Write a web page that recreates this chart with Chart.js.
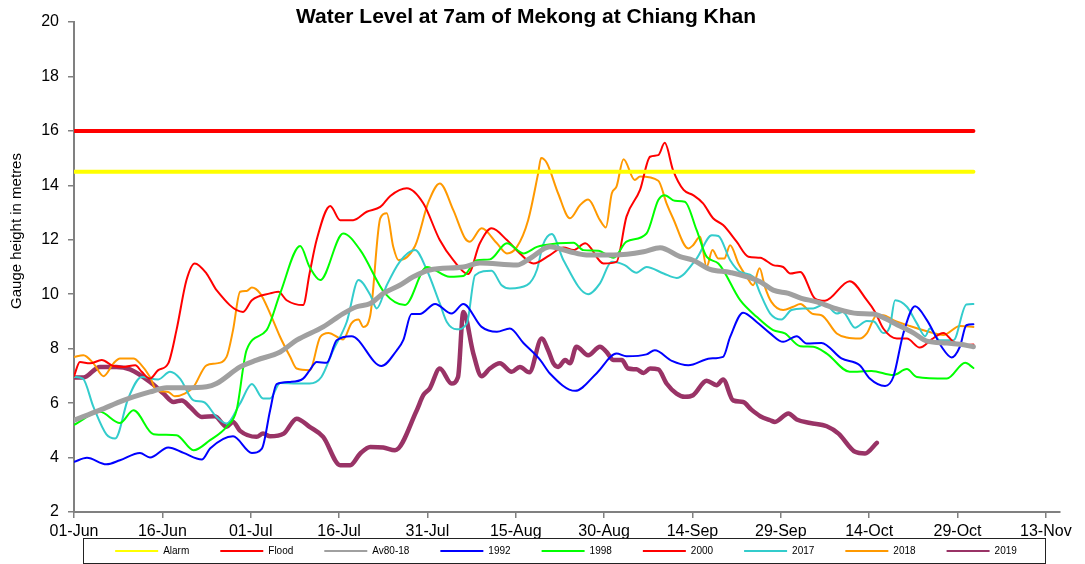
<!DOCTYPE html>
<html>
<head>
<meta charset="utf-8">
<title>Water Level at 7am of Mekong at Chiang Khan</title>
<script src="https://cdn.jsdelivr.net/npm/chart.js@4.4.1/dist/chart.umd.min.js"></script>
<style>
  html, body { margin: 0; padding: 0; background: #fff; }
  #wrap { width: 1085px; height: 564px; position: relative; }
</style>
</head>
<body>
<div id="wrap"><canvas id="graph"></canvas></div>
<script>
// x = days since 01-Jun, y = gauge height (m)
const tickLabels = ['01-Jun', '16-Jun', '01-Jul', '16-Jul', '31-Jul', '15-Aug',
                    '30-Aug', '14-Sep', '29-Sep', '14-Oct', '29-Oct', '13-Nov'];

const alarm = [[0, 14.5], [152.7, 14.5]];
const flood = [[0, 16], [152.7, 16]];

const av8018 = [[0,5.37],[4.4,5.74],[8.4,6.1],[12.9,6.41],[15.7,6.56],[18.6,6.56],[22.5,6.6],[24.2,6.72],
  [28.2,7.33],[31,7.58],[35,7.88],[37.8,8.31],[42.3,8.8],[45.7,9.29],[48,9.54],[50.3,9.66],[52.5,10.03],
  [55.3,10.33],[57.6,10.64],[60.4,10.89],[66.1,11.0],[68.9,11.15],[75.2,11.07],[77.4,11.31],[80.8,11.74],
  [84.2,11.56],[87,11.44],[91.6,11.44],[96.7,11.56],[99.5,11.71],[102.9,11.38],[105.1,11.25],[108,10.91],
  [111.4,10.8],[116.5,10.46],[118.7,10.15],[121.3,10.03],[123.5,9.85],[126.1,9.72],[129.2,9.48],[133.1,9.29],
  [135.7,9.27],[137.7,9.11],[140.2,8.83],[142.5,8.58],[144.8,8.28],[148.2,8.21],[150.4,8.16],[152.7,8.07]];

const y1992 = [[0,3.84],[2.2,3.99],[5.5,3.75],[7.8,3.9],[11.2,4.17],[12.9,4.0],[16,4.37],[18.6,4.17],
  [21.7,3.93],[23.1,4.33],[27,4.78],[30.2,4.17],[31.9,4.33],[33.3,5.74],[34.4,6.7],[36.7,6.78],[38.9,6.9],
  [40,7.2],[41.2,7.51],[42.9,7.48],[44.6,8.31],[47.1,8.46],[52.2,7.36],[54.8,7.94],[55.9,8.31],[57.3,9.27],
  [58.7,9.27],[61.3,9.64],[64.1,9.29],[66.1,9.64],[69.2,8.8],[71.8,8.62],[74,8.74],[76.3,8.21],[79.1,7.6],
  [80.8,7.09],[85.1,6.45],[88.7,7.09],[92.1,7.82],[93.8,7.72],[97.2,7.79],[98.6,7.94],[101.5,7.55],
  [104.3,7.39],[108,7.64],[110.2,7.7],[111.4,8.43],[113.6,9.32],[115.9,8.98],[118.2,8.56],[120.4,8.25],
  [122.7,8.46],[124.4,8.19],[126.9,8.21],[130.3,7.64],[133.4,7.39],[135.1,6.9],[137.7,6.63],[139.1,6.96],
  [140.8,8.56],[142.8,9.56],[144.8,9.05],[147.3,8.07],[149,7.68],[150.4,8.07],[151.5,8.86],[152.7,8.9]];

const y1998 = [[0,5.2],[4.4,5.68],[7.8,5.27],[10.1,5.74],[13.5,4.86],[17.4,4.82],[20.3,4.27],[23.1,4.64],
  [25.9,5.13],[27.6,5.74],[29.3,7.95],[32.7,8.68],[35,10.03],[38.4,11.77],[40,11.0],[41.8,10.52],[45.7,12.23],
  [48.6,11.62],[52.8,10.03],[56.2,9.6],[59.9,11.0],[63.8,10.64],[66.1,10.67],[68.4,11.25],[70.6,11.28],
  [73.5,11.87],[76.3,11.5],[78.6,11.74],[79.7,11.8],[84.8,11.89],[86.5,11.62],[89,11.6],[91.6,11.34],
  [93.8,11.93],[97.2,12.23],[99.2,13.46],[100.3,13.64],[102,13.43],[103.7,13.4],[105.7,12.36],[107.4,11.38],
  [109.4,11.13],[113.1,9.78],[115.9,9.17],[118.7,8.68],[120.7,8.56],[123.3,8.09],[125.5,8.07],[127.8,7.82],
  [131.7,7.15],[135.4,7.18],[139.1,7.03],[141.4,7.25],[143.1,6.96],[148.2,6.9],[151.3,7.48],[152.7,7.29]];

const y2000 = [[0,6.99],[1,7.51],[2.7,7.46],[4.7,7.58],[6.7,7.36],[8.4,7.33],[10.4,7.39],[11.5,7.15],
  [12.9,6.9],[14.3,7.21],[16,7.46],[17.4,8.68],[19.1,10.52],[20.5,11.13],[22.5,10.76],[24.2,10.15],[28.7,9.35],
  [30.2,9.78],[33.3,10.03],[34.7,10.09],[36.1,9.78],[38.9,9.6],[40,10.77],[41.2,12.0],[43.5,13.24],[45.2,12.72],
  [47.4,12.72],[49.7,13.03],[52,13.21],[53.7,13.61],[56.5,13.89],[59.3,13.34],[62.1,11.99],[64.4,11.25],
  [66.9,10.74],[68.9,11.87],[70.9,12.42],[73.5,11.99],[75.7,11.5],[78,11.13],[80.8,11.44],[83.1,11.72],
  [84.8,11.62],[86.8,11.87],[89.9,11.13],[92.1,11.19],[93.8,12.85],[96.1,13.83],[97.8,15.05],[99.2,15.11],
  [100.3,15.56],[101.7,14.56],[103.5,13.83],[105.1,13.64],[106.8,13.34],[108.5,12.79],[110.2,12.54],
  [112.5,11.93],[114.5,11.38],[116.5,11.34],[118.7,11.07],[120.4,11.0],[121.6,10.76],[123.3,10.82],
  [125.8,9.84],[127.5,9.76],[131.7,10.48],[134.6,9.78],[136,9.35],[137.4,8.74],[139.7,8.37],[141.4,8.37],
  [143.6,8.04],[145.6,8.34],[147.6,8.58],[149.3,8.25],[151,8.13],[152.7,8.15]];

const y2017 = [[0,6.96],[1.5,6.9],[3.3,5.86],[5.5,4.85],[7,4.7],[9.2,6.17],[11.5,6.96],[14.3,6.87],
  [16.3,7.15],[18,6.9],[20.3,6.1],[22,6.04],[24.2,5.49],[25.9,5.25],[28.2,5.99],[30.2,6.7],[32.1,6.17],
  [33.3,6.17],[35,6.74],[37.8,6.72],[40,6.72],[42,6.96],[44,7.94],[46.3,8.98],[48.3,10.52],[50.3,9.97],
  [51.4,9.48],[53.1,10.33],[55.3,11.19],[57.9,11.62],[59.9,10.89],[62.1,9.66],[63.3,8.98],[65,8.71],
  [66.7,8.93],[68.1,10.7],[70.9,10.86],[72.6,10.33],[74,10.21],[76.9,10.33],[78.6,10.9],[79.6,11.8],
  [81.1,12.21],[83.1,11.25],[87.3,10.0],[89.3,10.4],[91.3,11.19],[93.5,11.07],[95.5,10.79],[97.2,11.0],
  [100.1,10.76],[102.3,10.6],[105.7,11.31],[108.3,12.17],[109.4,12.14],[111.4,11.25],[113.1,10.82],
  [115.3,10.64],[116.5,10.03],[118.2,9.29],[120.1,9.07],[121.8,9.42],[123.8,9.48],[125.5,9.48],[127.5,9.64],
  [129.5,9.29],[130.5,9.35],[132.6,8.77],[134.6,9.02],[135.8,9.0],[137.4,8.58],[138.5,8.8],[139.4,9.78],
  [141.4,9.54],[143.1,8.93],[144.5,8.46],[145.3,8.74],[147,8.31],[149.3,8.31],[151.5,9.62],[152.7,9.64]];

const y2018 = [[0,7.7],[1.6,7.76],[3.3,7.46],[5,6.99],[6.7,7.46],[7.8,7.64],[10.1,7.64],[11.2,7.46],
  [12.9,6.96],[14,6.47],[16,6.41],[17.1,6.25],[18.8,6.35],[20.3,6.6],[22.5,7.39],[24.2,7.46],[25.9,7.7],
  [27,8.68],[28.2,10.09],[29.3,10.12],[30.2,10.25],[31.6,10.03],[33.3,9.29],[35,8.43],[36.7,7.7],[37.8,7.27],
  [40,7.21],[41.8,8.43],[43.2,8.58],[45.7,8.34],[47.1,8.93],[48.3,9.07],[49.1,8.8],[50.3,9.23],[52,12.79],
  [53.1,12.97],[54.2,11.74],[55.1,11.25],[57.9,11.77],[60.2,13.4],[62.1,14.07],[64.4,13.09],[66.4,12.05],
  [67.2,11.93],[69.2,12.42],[71.8,11.87],[73.5,11.5],[75.2,11.74],[77.1,12.72],[78.8,14.44],[79.3,15.0],
  [80.3,14.81],[82.2,13.7],[84.2,12.79],[85.9,13.27],[87.3,13.48],[89.3,12.72],[90.3,12.45],[91.3,13.7],
  [92.1,13.95],[93.3,14.96],[95.2,14.2],[96.1,14.32],[99.2,14.17],[100.6,13.34],[101.7,12.79],[104.3,11.68],
  [105.1,11.8],[106.3,12.11],[107.4,11.0],[108.4,11.62],[109.4,11.31],[110.4,11.31],[111.4,11.8],
  [112.8,11.13],[114.2,10.64],[115.3,10.33],[116.4,10.95],[117.3,10.27],[118.4,9.72],[120.4,9.42],
  [122.1,9.54],[123.3,9.64],[125.5,9.27],[126.9,9.23],[129.5,8.56],[131.2,8.41],[133.4,8.37],[134.6,8.56],
  [136.3,9.23],[137.4,9.23],[139.1,9.05],[141.9,8.83],[144.8,8.64],[147.6,8.5],[150.4,8.83],[152.7,8.8]];

const y2019 = [[0,6.94],[1.6,6.94],[4.4,7.33],[7.2,7.33],[9.5,7.24],[12.9,6.78],[15.2,6.35],[16.9,6.04],
  [18.3,6.1],[19.7,5.86],[21.7,5.49],[23.9,5.52],[25.9,5.13],[27,5.31],[28.2,4.98],[31,4.76],[32.1,4.88],
  [33.3,4.78],[35.6,4.88],[37.8,5.43],[40,5.13],[42.3,4.76],[45.2,3.72],[46.9,3.72],[48.6,4.15],[50.3,4.39],
  [52.5,4.37],[54.5,4.27],[58.2,5.74],[59.3,6.29],[60.4,6.54],[62.1,7.27],[64.1,6.72],[65.2,6.96],[66.1,9.35],
  [67.8,7.82],[69.2,6.99],[70.6,7.27],[72.3,7.46],[74.3,7.15],[75.7,7.33],[77.3,7.13],[79.4,8.37],[80.5,7.94],
  [81.4,7.46],[82.2,7.33],[83.4,7.58],[84.2,7.46],[85.3,8.07],[87.3,7.76],[89.3,8.07],[90.4,7.88],[91.6,7.58],
  [93,7.58],[94.1,7.27],[95.5,7.24],[96.7,7.11],[97.8,7.27],[99.2,7.24],[100.6,6.72],[102.3,6.35],[103.7,6.23],
  [105.1,6.29],[107.4,6.82],[109.1,6.66],[110.2,6.87],[111.9,6.1],[113.6,6.04],[115,5.76],[116.5,5.52],
  [118.2,5.37],[119,5.31],[121.3,5.62],[122.7,5.4],[125,5.27],[127.8,5.15],[129.8,4.88],[132.6,4.21],
  [134.3,4.15],[136.3,4.54]];

const seriesNames = ['Alarm', 'Flood', 'Av80-18', '1992', '1998', '2000', '2017', '2018', '2019'];
const seriesData = [alarm, flood, av8018, y1992, y1998, y2000, y2017, y2018, y2019];
const seriesColors = ['#ffff00', '#ff0000', '#a0a0a0', '#0000ff', '#00ff00', '#ff0000', '#33cccc', '#ff9900', '#993366'];
const seriesWidths = [4, 4, 5, 2, 2, 2, 2, 2, 4.5];

const FONT = '"Liberation Sans", Arial, sans-serif';

// title, rotated axis title and the boxed legend are drawn by hand
const extraText = {
    id: 'extraText',
    afterDraw(chart) {
        const ctx = chart.ctx;
        ctx.save();
        ctx.fillStyle = '#000';

        ctx.font = 'bold 21px ' + FONT;
        ctx.textAlign = 'center';
        ctx.textBaseline = 'middle';
        ctx.fillText('Water Level at 7am of Mekong at Chiang Khan', 526, 17);

        ctx.save();
        ctx.translate(17, 231);
        ctx.rotate(-Math.PI / 2);
        ctx.font = '15px ' + FONT;
        ctx.fillText('Gauge height in metres', 0, 0);
        ctx.restore();

        // legend
        ctx.font = '10px ' + FONT;
        ctx.textAlign = 'left';
        const lineW = 43, gap = 5, pad = 31;
        const ds = chart.data.datasets;
        const widths = ds.map(d => lineW + gap + ctx.measureText(d.label).width);
        const total = widths.reduce((a, b) => a + b, 0) + pad * (ds.length - 1);
        let x = 566 - total / 2;
        const startX = x;
        const y = 551;
        ds.forEach((d, i) => {
            ctx.strokeStyle = d.borderColor;
            ctx.lineWidth = 2;
            ctx.beginPath();
            ctx.moveTo(x, y);
            ctx.lineTo(x + lineW, y);
            ctx.stroke();
            ctx.fillText(d.label, x + lineW + gap, y + 0.5);
            x += widths[i] + pad;
        });
        ctx.strokeStyle = '#222';
        ctx.lineWidth = 1;
        ctx.strokeRect(Math.round(startX - 32) + 0.5, 538.5, Math.round(x - pad + 28 - startX + 32), 25);
        ctx.restore();
    }
};

const lineGraph = {
    type: 'line',
    data: {
        datasets: seriesNames.map((name, i) => ({
            label: name,
            data: seriesData[i].map(p => ({x: p[0], y: p[1]})),
            borderColor: seriesColors[i],
            backgroundColor: seriesColors[i],
            borderWidth: seriesWidths[i],
            borderCapStyle: 'round',
            borderJoinStyle: 'round',
            pointRadius: 0,
            cubicInterpolationMode: 'monotone',
            fill: false
        }))
    },
    options: {
        responsive: true,
        maintainAspectRatio: false,
        animation: false,
        layout: {padding: {top: 22, left: 30, right: 25, bottom: 17}},
        plugins: {
            legend: {display: false},
            title: {display: false},
            tooltip: {enabled: false}
        },
        scales: {
            x: {
                type: 'linear',
                min: 0,
                max: 167.4,
                afterFit: (scale) => { scale.height = 35; },
                grid: {drawOnChartArea: false, tickLength: 6, color: '#808080', lineWidth: 1.5},
                border: {color: '#808080', width: 2},
                ticks: {
                    stepSize: 15,
                    includeBounds: false,
                    autoSkip: false,
                    maxRotation: 0,
                    padding: 4,
                    color: '#000',
                    font: {family: FONT, size: 16},
                    callback: (v) => tickLabels[Math.round(v / 15)]
                }
            },
            y: {
                min: 2,
                max: 20,
                afterFit: (scale) => { scale.width = 44; },
                grid: {drawOnChartArea: false, tickLength: 6, color: '#808080', lineWidth: 1.5},
                border: {color: '#808080', width: 2},
                ticks: {
                    stepSize: 2,
                    padding: 9,
                    color: '#000',
                    font: {family: FONT, size: 16}
                }
            }
        }
    },
    plugins: [extraText]
};

const displayedGraph = new Chart(document.getElementById('graph').getContext('2d'), lineGraph);
</script>
</body>
</html>
